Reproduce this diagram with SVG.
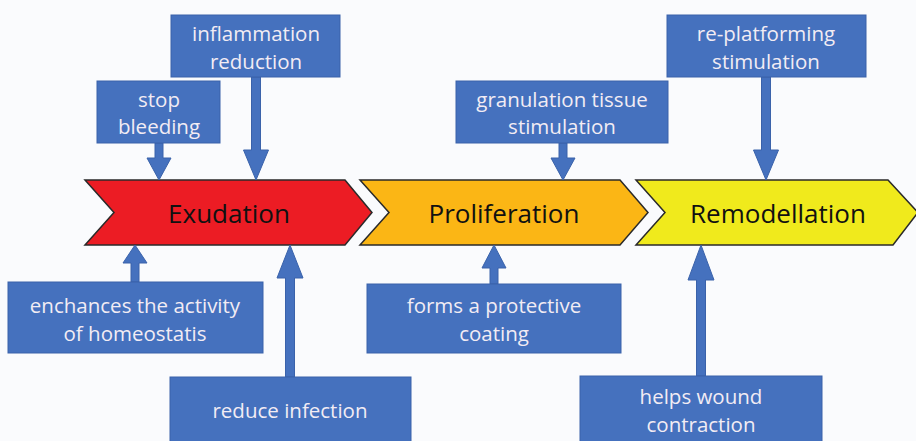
<svg xmlns="http://www.w3.org/2000/svg" width="916" height="441" viewBox="0 0 916 441">
<style>
.box{fill:#4571be;stroke:#3a62aa;stroke-width:1}
.arr{fill:#4571be;stroke:#3a62aa;stroke-width:1}
.bt{font-family:"Open Sans","Liberation Sans",sans-serif;font-size:20.5px;fill:#f2ecf4;text-anchor:middle;dominant-baseline:central}
.ct{font-family:"Open Sans","Liberation Sans",sans-serif;font-size:26px;fill:#111;text-anchor:middle;dominant-baseline:central}
.chev{stroke:#2a2a2a;stroke-width:1.5;stroke-linejoin:miter}
</style>
<rect width="916" height="441" fill="#fafbfd"/>
<g id="exudation">
<polygon class="chev" fill="#ec1c24" points="85,180 345,180 372,212.5 345,245 85,245 114,212.5"/>
<text class="ct" x="229" y="213">Exudation</text>
</g>
<g id="proliferation">
<polygon class="chev" fill="#fbb615" points="360,180 620,180 648,212.5 620,245 360,245 389,212.5"/>
<text class="ct" x="504" y="213">Proliferation</text>
</g>
<g id="remodellation">
<polygon class="chev" fill="#f0ea1c" points="636,180 888,180 918,212.5 893,245 636,245 665,212.5"/>
<text class="ct" x="778" y="213">Remodellation</text>
</g>
<g id="connectors">
<polygon class="arr" points="251.5,77 260.5,77 260.5,150 268.5,150 256,180 243.5,150 251.5,150"/>
<polygon class="arr" points="155,143 163,143 163,158 171,158 159,180 147,158 155,158"/>
<polygon class="arr" points="559,143 567,143 567,158 575,158 563,180 551,158 559,158"/>
<polygon class="arr" points="761.5,77 770.5,77 770.5,150 778.5,150 766,180 753.5,150 761.5,150"/>
<polygon class="arr" points="131,282 139,282 139,263 147,263 135,245 123,263 131,263"/>
<polygon class="arr" points="285.5,377 294.5,377 294.5,278 303,278 290,245 277,278 285.5,278"/>
<polygon class="arr" points="490,284 498,284 498,268 506,268 494,245 482,268 490,268"/>
<polygon class="arr" points="696.5,376 705.5,376 705.5,280 714,280 701,245 688,280 696.5,280"/>
</g>
<g id="inflammation-reduction">
<rect class="box" x="171" y="15" width="169" height="62"/>
<text class="bt" x="256" y="33">inflammation</text>
<text class="bt" x="256" y="61">reduction</text>
</g>
<g id="stop-bleeding">
<rect class="box" x="97" y="81" width="123" height="62"/>
<text class="bt" x="159" y="99">stop</text>
<text class="bt" x="159" y="126">bleeding</text>
</g>
<g id="granulation-tissue-stimulation">
<rect class="box" x="456" y="81" width="212" height="62"/>
<text class="bt" x="562" y="99">granulation tissue</text>
<text class="bt" x="562" y="126">stimulation</text>
</g>
<g id="re-platforming-stimulation">
<rect class="box" x="667" y="15" width="199" height="62"/>
<text class="bt" x="766" y="33">re-platforming</text>
<text class="bt" x="766" y="61">stimulation</text>
</g>
<g id="enchances-homeostatis">
<rect class="box" x="8" y="282" width="255" height="71"/>
<text class="bt" x="135" y="305">enchances the activity</text>
<text class="bt" x="135" y="333">of homeostatis</text>
</g>
<g id="reduce-infection">
<rect class="box" x="170" y="377" width="241" height="70"/>
<text class="bt" x="290" y="410">reduce infection</text>
</g>
<g id="forms-protective-coating">
<rect class="box" x="367" y="284" width="254" height="69"/>
<text class="bt" x="494" y="305">forms a protective</text>
<text class="bt" x="494" y="333">coating</text>
</g>
<g id="helps-wound-contraction">
<rect class="box" x="580" y="376" width="242" height="70"/>
<text class="bt" x="701" y="396">helps wound</text>
<text class="bt" x="701" y="424">contraction</text>
</g>
</svg>
